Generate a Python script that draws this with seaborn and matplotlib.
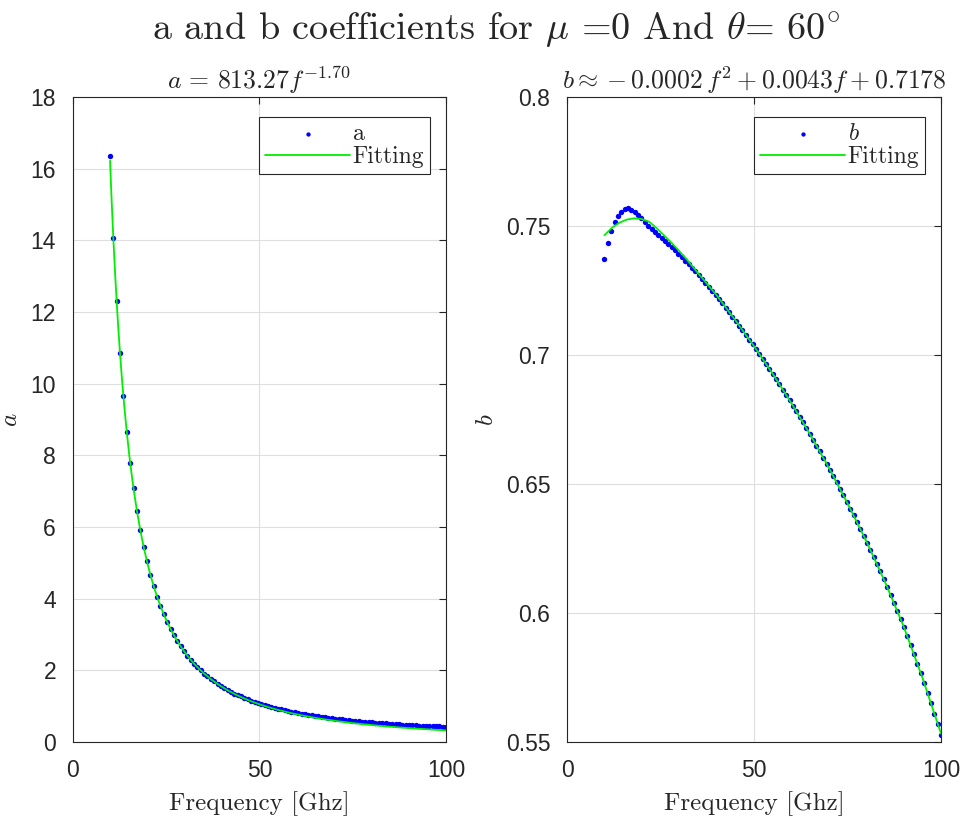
import numpy as np
import pandas as pd
import matplotlib
matplotlib.use("Agg")
import matplotlib.pyplot as plt
import seaborn as sns

# Sampled frequencies (GHz)
freq_ghz = [
    10.0, 10.9, 11.8, 12.7, 13.6, 14.5, 15.4, 16.3, 17.2, 18.1,
    19.0, 19.9, 20.8, 21.7, 22.6, 23.5, 24.4, 25.3, 26.2, 27.1,
    28.0, 28.9, 29.8, 30.7, 31.6, 32.5, 33.4, 34.3, 35.2, 36.1,
    37.0, 37.9, 38.8, 39.7, 40.6, 41.5, 42.4, 43.3, 44.2, 45.1,
    46.0, 46.9, 47.8, 48.7, 49.6, 50.5, 51.4, 52.3, 53.2, 54.1,
    55.0, 55.9, 56.8, 57.7, 58.6, 59.5, 60.4, 61.3, 62.2, 63.1,
    64.0, 64.9, 65.8, 66.7, 67.6, 68.5, 69.4, 70.3, 71.2, 72.1,
    73.0, 73.9, 74.8, 75.7, 76.6, 77.5, 78.4, 79.3, 80.2, 81.1,
    82.0, 82.9, 83.8, 84.7, 85.6, 86.5, 87.4, 88.3, 89.2, 90.1,
    91.0, 91.9, 92.8, 93.7, 94.6, 95.5, 96.4, 97.3, 98.2, 99.1,
    100.0,
]

# Coefficient a at each frequency
a_values = [
    16.35, 14.07, 12.30, 10.85, 9.65, 8.65, 7.80, 7.08, 6.45, 5.92,
    5.45, 5.04, 4.67, 4.35, 4.06, 3.80, 3.56, 3.35, 3.16, 2.98,
    2.82, 2.67, 2.54, 2.41, 2.29, 2.19, 2.09, 2.00, 1.91, 1.83,
    1.76, 1.69, 1.62, 1.56, 1.50, 1.45, 1.40, 1.35, 1.31, 1.27,
    1.23, 1.19, 1.15, 1.12, 1.09, 1.06, 1.03, 1.00, 0.978, 0.954,
    0.931, 0.908, 0.888, 0.868, 0.847, 0.829, 0.810, 0.793, 0.776, 0.760,
    0.744, 0.729, 0.715, 0.701, 0.687, 0.675, 0.663, 0.650, 0.639, 0.629,
    0.619, 0.608, 0.598, 0.590, 0.580, 0.571, 0.564, 0.555, 0.547, 0.539,
    0.532, 0.524, 0.517, 0.510, 0.504, 0.497, 0.491, 0.486, 0.480, 0.475,
    0.469, 0.465, 0.460, 0.455, 0.450, 0.445, 0.441, 0.436, 0.433, 0.429,
    0.424,
]

# Coefficient b at each frequency
b_values = [
    0.7372, 0.7435, 0.7480, 0.7515, 0.7540, 0.7556, 0.7565, 0.7568, 0.7564, 0.7555,
    0.7543, 0.7530, 0.7516, 0.7501, 0.7489, 0.7478, 0.7467, 0.7455, 0.7443, 0.7431,
    0.7418, 0.7406, 0.7393, 0.7379, 0.7366, 0.7352, 0.7338, 0.7324, 0.7309, 0.7294,
    0.7279, 0.7264, 0.7248, 0.7232, 0.7216, 0.7200, 0.7183, 0.7166, 0.7149, 0.7132,
    0.7114, 0.7097, 0.7079, 0.7060, 0.7042, 0.7023, 0.7004, 0.6985, 0.6966, 0.6946,
    0.6927, 0.6907, 0.6886, 0.6866, 0.6845, 0.6825, 0.6803, 0.6782, 0.6761, 0.6739,
    0.6717, 0.6694, 0.6672, 0.6649, 0.6626, 0.6602, 0.6579, 0.6555, 0.6530, 0.6506,
    0.6481, 0.6456, 0.6431, 0.6405, 0.6379, 0.6353, 0.6327, 0.6300, 0.6273, 0.6246,
    0.6218, 0.6190, 0.6161, 0.6131, 0.6102, 0.6071, 0.6040, 0.6009, 0.5977, 0.5944,
    0.5910, 0.5875, 0.5840, 0.5804, 0.5767, 0.5729, 0.5690, 0.5651, 0.5610, 0.5569,
    0.5527,
]

# Power-law fit for a: a = 813.27 f^-1.70
a_fit_coef = 813.27
a_fit_exp = -1.70

# Fitted curve for b
b_fit_freq = [10, 12, 14, 16, 18, 20, 22, 24, 26, 28, 30, 32, 35, 40,
              45, 50, 55, 60, 65, 70, 75, 80, 85, 90, 95, 100]
b_fit_values = [0.7464, 0.7493, 0.7513, 0.7525, 0.7530, 0.7527, 0.7516, 0.7491,
                0.7463, 0.7434, 0.7403, 0.7371, 0.7318, 0.7232, 0.7135, 0.7034,
                0.6927, 0.6813, 0.6692, 0.6563, 0.6425, 0.6279, 0.6121, 0.5948,
                0.5750, 0.5532]

x_ticks = [0, 50, 100]
a_ticks = [0, 2, 4, 6, 8, 10, 12, 14, 16, 18]
b_ticks = [0.55, 0.6, 0.65, 0.7, 0.75, 0.8]

sns.set_theme(style="whitegrid")
plt.rcParams.update({
    "font.family": ["Liberation Sans", "DejaVu Sans"],
    "mathtext.fontset": "cm",
    "axes.unicode_minus": False,
    "axes.edgecolor": "#262626",
    "axes.linewidth": 0.8,
    "grid.color": "#dedede",
    "grid.linewidth": 0.8,
    "xtick.color": "#262626",
    "ytick.color": "#262626",
    "xtick.labelsize": 16.5,
    "ytick.labelsize": 16.5,
})
SERIF = "cmr10"

fig = plt.figure(figsize=(9.63, 8.16), dpi=100)
fig.patch.set_facecolor("white")
ax_a = fig.add_axes([0.0755, 0.0907, 0.3877, 0.7904])
ax_b = fig.add_axes([0.5888, 0.0907, 0.3884, 0.7904])

df = pd.DataFrame({"freq": freq_ghz, "a": a_values, "b": b_values})
f_dense = np.linspace(min(freq_ghz), max(freq_ghz), 400)
a_fit = a_fit_coef * f_dense ** a_fit_exp

dot_kw = dict(color="#0000ff", s=15, marker="o", linewidth=0, zorder=2)
line_kw = dict(color="#00ee00", linewidth=1.3, zorder=3)

sns.scatterplot(data=df, x="freq", y="a", ax=ax_a, label="a", **dot_kw)
sns.lineplot(x=f_dense, y=a_fit, ax=ax_a, label="Fitting", **line_kw)

sns.scatterplot(data=df, x="freq", y="b", ax=ax_b, label=r"$b$", **dot_kw)
sns.lineplot(x=b_fit_freq, y=b_fit_values, ax=ax_b, label="Fitting", **line_kw)

panels = [
    (ax_a, a_ticks, (0, 18), r"$a$", -0.135, r"$a\,=\,813.27f^{-1.70}$"),
    (ax_b, b_ticks, (0.55, 0.8), r"$b$", -0.185,
     r"$b \approx -0.0002\,f^2 + 0.0043f + 0.7178$"),
]
for ax, yt, ylim, ylab, ylab_x, title in panels:
    ax.set_xlim(0, 100)
    ax.set_ylim(*ylim)
    ax.set_xticks(x_ticks)
    ax.set_yticks(yt)
    ax.yaxis.set_major_formatter(matplotlib.ticker.FormatStrFormatter("%g"))
    ax.tick_params(direction="in", length=5, width=0.8, top=True, right=True)
    ax.tick_params(axis="x", pad=12)
    ax.tick_params(axis="y", pad=12)
    ax.grid(True, which="major")
    for sp in ax.spines.values():
        sp.set_visible(True)
        sp.set_color("#262626")
        sp.set_linewidth(0.8)
    ax.set_xlabel("Frequency [Ghz]", fontsize=18, family=SERIF, labelpad=7)
    ax.set_ylabel(ylab, fontsize=18)
    ax.yaxis.set_label_coords(ylab_x, 0.5)
    ax.set_title(title, fontsize=18.5, pad=6)
    leg = ax.legend(loc="upper right", bbox_to_anchor=(0.957, 0.969),
                    borderaxespad=0, frameon=True, fancybox=False,
                    edgecolor="#262626", framealpha=1,
                    prop={"family": SERIF, "size": 17},
                    handlelength=3.6, handletextpad=0.1, borderpad=0.25,
                    labelspacing=0.05, markerscale=0.8)
    leg.get_frame().set_linewidth(0.8)

fig.suptitle(r"a and b coefficients for $\mu$ =0 And $\theta$= 60$^{\circ}$",
             fontsize=27.5, family=SERIF, x=0.515, y=0.987)

fig.savefig("out.png", dpi=100, facecolor="white")
